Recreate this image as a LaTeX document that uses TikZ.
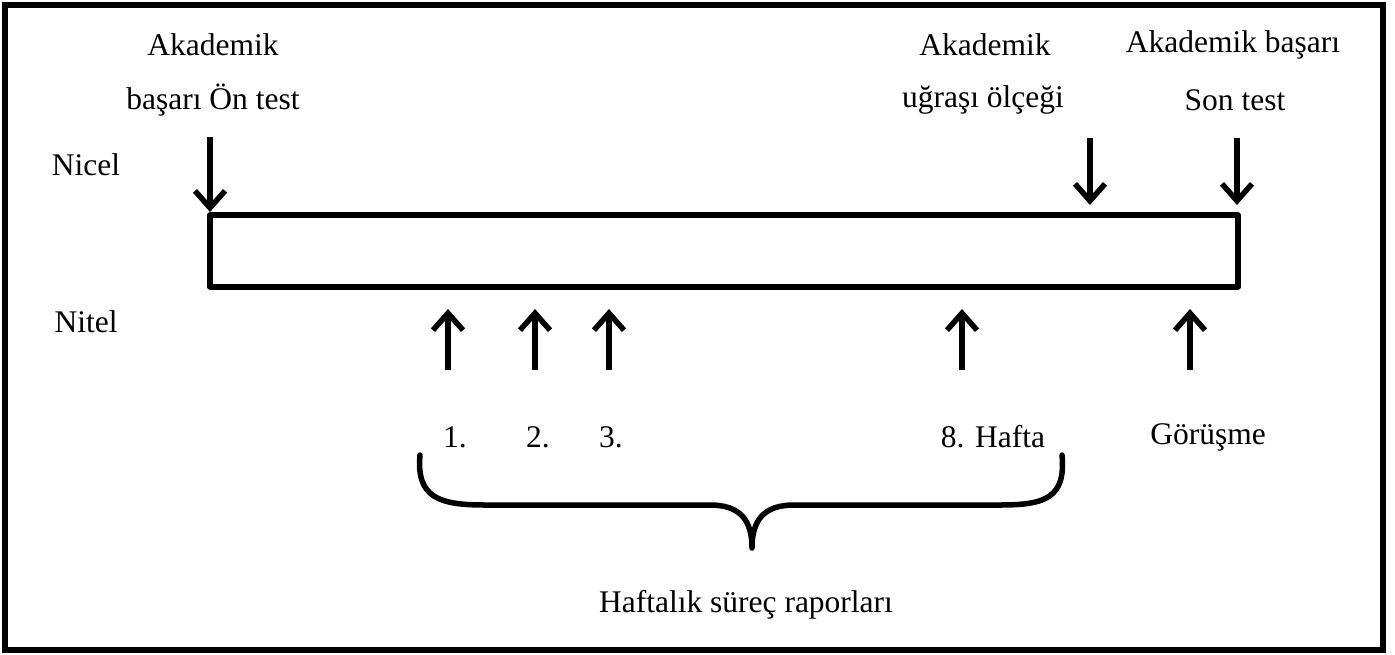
\documentclass[tikz,border=0pt]{standalone}
\usepackage{fontspec}
\setmainfont{Liberation Serif}
\usetikzlibrary{arrows.meta}
\begin{document}
\begin{tikzpicture}[x=1pt,y=-1pt,
  lbl/.style={inner sep=0pt,font=\fontsize{31.5}{37}\selectfont},
  frame/.style={line width=5.5pt},
  arr/.style={line width=5.5pt,-{Straight Barb[length=17pt,width=30pt,line width=5.5pt]}}]
\useasboundingbox (0,0) rectangle (1395,654);
% outer frame and the timeline bar
\draw[frame] (5,5) rectangle (1383,650);
\draw[frame,line join=round] (210,215) rectangle (1238,287);
% row captions
\node[lbl] (nicel) at (86,165) {Nicel};
\node[lbl] (nitel) at (86,322) {Nitel};
% quantitative measurements (top)
\node[lbl] (pre1) at (213,45) {Akademik};
\node[lbl] (pre2) at (213,100) {başarı Ön test};
\node[lbl] (mid1) at (985,45) {Akademik};
\node[lbl] (mid2) at (983,100) {uğraşı ölçeği};
\node[lbl] (post1) at (1233,45) {Akademik başarı};
\node[lbl] (post2) at (1235,100) {Son test};
\coordinate (preS) at (210,137);  \coordinate (preE) at (210,212);
\coordinate (midS) at (1090,138); \coordinate (midE) at (1090,205);
\coordinate (postS) at (1237,138);\coordinate (postE) at (1237,205);
\draw[arr] (preS) -- (preE);
\draw[arr] (midS) -- (midE);
\draw[arr] (postS) -- (postE);
% qualitative measurements (bottom)
\node[lbl] (w1) at (455,437) {1.};
\node[lbl] (w2) at (538,437) {2.};
\node[lbl] (w3) at (611,437) {3.};
\node[lbl] (w8) at (993,437) {8. Hafta};
\node[lbl] (gor) at (1208,437) {Görüşme};
\foreach \n/\x in {a/448,b/535,c/609,d/962,e/1190}{
  \coordinate (up\n S) at (\x,370);
  \coordinate (up\n E) at (\x,309);
  \draw[arr] (up\n S) -- (up\n E);
}
% brace grouping the weekly reports
\coordinate (bl) at (420,455);
\coordinate (br) at (1062,455);
\coordinate (bt) at (752,548);
\draw[line width=5.5pt,line cap=round,line join=round]
  (bl) .. controls (416,498) and (440,505) .. (485,505) -- (710,505)
  .. controls (740,505) and (752,520) .. (bt)
  .. controls (752,520) and (764,505) .. (794,505) -- (1000,505)
  .. controls (1045,505) and (1066,498) .. (br);
\node[lbl] (rap) at (746,605) {Haftalık süreç raporları};
\end{tikzpicture}
\end{document}
